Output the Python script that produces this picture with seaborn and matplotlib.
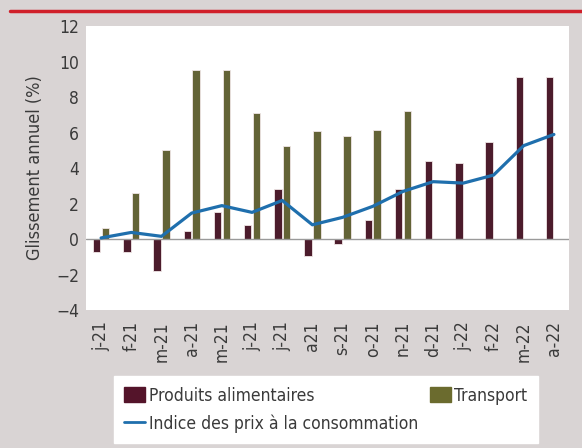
import numpy as np
import pandas as pd
import seaborn as sns
import matplotlib.pyplot as plt
from matplotlib.lines import Line2D

# monthly year-on-year changes (%)
months = ["j-21", "f-21", "m-21", "a-21", "m-21 ", "j-21 ", "j-21  ", "a21",
          "s-21", "o-21", "n-21", "d-21", "j-22", "f-22", "m-22 ", "a-22"]
labels = ["j-21", "f-21", "m-21", "a-21", "m-21", "j-21", "j-21", "a21",
          "s-21", "o-21", "n-21", "d-21", "j-22", "f-22", "m-22", "a-22"]
food = [-0.75, -0.75, -1.8, 0.43, 1.5, 0.8, 2.82, -0.94,
        -0.26, 1.09, 2.82, 4.39, 4.28, 5.46, 9.13, 9.13]
transport = [0.62, 2.59, 5.03, 9.5, 9.5, 7.1, 5.22, 6.1,
             5.78, 6.16, 7.2, np.nan, np.nan, np.nan, np.nan, np.nan]
cpi = [0.06, 0.37, 0.15, 1.46, 1.88, 1.5, 2.17, 0.8,
       1.22, 1.84, 2.68, 3.23, 3.15, 3.6, 5.26, 5.89]

food_col = "#54142a"
trans_col = "#6b6b2e"
line_col = "#1f6fad"
bg = "#d9d4d4"
txt = "#3a3a3a"

df = pd.DataFrame({"mois": months * 2,
                   "valeur": food + transport,
                   "serie": ["Produits alimentaires"] * 16 + ["Transport"] * 16})

sns.set_style("white")
plt.rcParams["font.family"] = ["DejaVu Sans"]
plt.rcParams["font.stretch"] = "condensed"

fig = plt.figure(figsize=(5.82, 4.48), dpi=100, facecolor=bg)
ax = fig.add_axes([86 / 582, 1 - 310 / 448, 483 / 582, 284 / 448])
ax.set_facecolor("white")

sns.barplot(data=df, x="mois", y="valeur", hue="serie", order=months,
            palette=[food_col, trans_col], width=0.58, gap=0.15,
            edgecolor="#f0e6e6", linewidth=0.6, legend=False, ax=ax)
ax.plot(range(16), cpi, color=line_col, lw=2.3, zorder=5)
ax.axhline(0, color="#9a9a9a", lw=1, zorder=4)

ax.set_xlim(-0.5, 15.5)
ax.set_ylim(-4, 12)
ax.set_yticks(range(-4, 13, 2))
ax.set_yticklabels([str(v).replace("-", "\u2212") for v in range(-4, 13, 2)],
                   fontsize=12.5, color=txt)
ax.set_xticks(range(16))
ax.set_xticklabels(labels, rotation=90, fontsize=12.5, color=txt)
ax.tick_params(axis="y", length=0, pad=5)
ax.tick_params(axis="x", length=0, pad=8)
ax.set_xlabel("")
ax.set_ylabel("Glissement annuel (%)", fontsize=13, color=txt, labelpad=9)
for s in ax.spines.values():
    s.set_visible(False)

handles = [plt.Rectangle((0, 0), 1, 1, color=food_col),
           Line2D([0], [0], color=line_col, lw=2),
           plt.Rectangle((0, 0), 1, 1, color=trans_col)]
names = ["Produits alimentaires", "Indice des prix à la consommation", "Transport"]
leg = fig.legend(handles, names, ncol=2, loc="lower left",
                 bbox_to_anchor=(114 / 582, 5 / 448, 424 / 582, 68 / 448),
                 mode="expand", fontsize=12.5, frameon=True, fancybox=False,
                 edgecolor="white", facecolor="white", framealpha=1,
                 handlelength=1.2, handleheight=1.0, handletextpad=0.2,
                 labelspacing=0.55, borderaxespad=0, borderpad=0.6)
for t in leg.get_texts():
    t.set_color(txt)

fig.add_artist(Line2D([10 / 582, 1], [1 - 11 / 448, 1 - 11 / 448],
                      color="#d0202a", lw=2.5))

fig.savefig("out.png", dpi=100, facecolor=bg)
